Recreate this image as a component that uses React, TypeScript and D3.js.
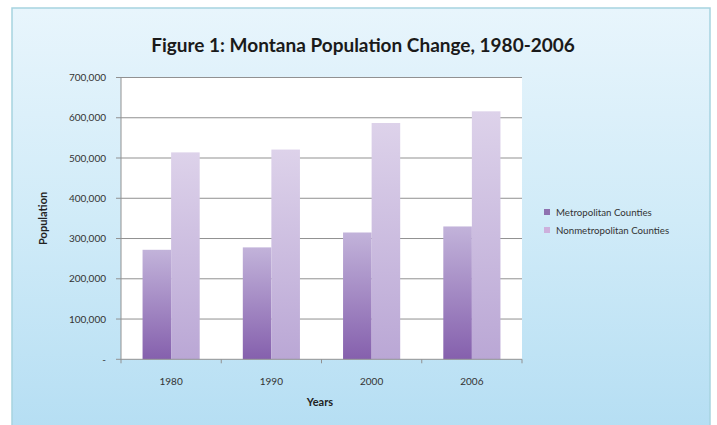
import React from "react";
import * as d3 from "d3";

const years = ["1980", "1990", "2000", "2006"];
const metro = [272000, 278000, 315000, 330000];
const nonmetro = [514000, 521000, 587000, 616000];
const seriesNames = ["Metropolitan Counties", "Nonmetropolitan Counties"];
const yTicks = [0, 100000, 200000, 300000, 400000, 500000, 600000, 700000];

const W = 717, H = 425;
const plot = { left: 121, right: 522, top: 77.5, bottom: 359.3 };
const FONT = "Lato, 'Open Sans', sans-serif";

export default function App() {
  const x = d3.scaleBand().domain(years).range([plot.left, plot.right]).paddingInner(0).paddingOuter(0);
  const y = d3.scaleLinear().domain([0, 700000]).range([plot.bottom, plot.top]);
  const groupW = x.bandwidth() * 0.57;
  const inner = d3.scaleBand().domain(["m", "n"]).range([0, groupW]).padding(0);
  const fmt = d3.format(",");
  const data = years.map((yr, i) => ({ yr, m: metro[i], n: nonmetro[i] }));

  return (
    <svg width={W} height={H} style={{ position: "absolute", left: 0, top: 0, background: "#fff" }}>
      <defs>
        <linearGradient id="bg" x1="0" y1="0" x2="0" y2="1">
          <stop offset="0" stopColor="#e8f5fc" />
          <stop offset="0.5" stopColor="#d0ebf8" />
          <stop offset="1" stopColor="#b5def3" />
        </linearGradient>
        <linearGradient id="gm" x1="0" y1="0" x2="0" y2="1">
          <stop offset="0" stopColor="#c2b3da" />
          <stop offset="1" stopColor="#8560ad" />
        </linearGradient>
        <linearGradient id="gn" x1="0" y1="0" x2="0" y2="1">
          <stop offset="0" stopColor="#ddd2ea" />
          <stop offset="1" stopColor="#baa7d5" />
        </linearGradient>
      </defs>
      <rect x={12} y={8} width={698} height={H} fill="url(#bg)" stroke="#a6d3e0" strokeWidth={1.5} />
      <text x={363} y={52} textAnchor="middle" fontFamily={FONT} fontWeight="bold" fontSize={19} fill="#1a1a1a">
        Figure 1: Montana Population Change, 1980-2006
      </text>
      <rect x={plot.left} y={plot.top} width={plot.right - plot.left} height={plot.bottom - plot.top} fill="#ffffff" />
      {yTicks.map((t) => (
        <g key={t}>
          {t > 0 && (
            <line x1={plot.left} x2={plot.right} y1={y(t)} y2={y(t)} stroke="#919191" strokeWidth={1} />
          )}
          <line x1={plot.left - 5} x2={plot.left} y1={y(t)} y2={y(t)} stroke="#919191" strokeWidth={1} />
          <text x={106} y={y(t)} dy="0.35em" textAnchor="end" fontFamily={FONT} fontSize={10} fill="#333">
            {t === 0 ? "-" : fmt(t)}
          </text>
        </g>
      ))}
      {data.map((d) => {
        const x0 = (x(d.yr) as number) + (x.bandwidth() - groupW) / 2;
        return (
          <g key={d.yr}>
            <rect x={x0 + (inner("m") as number)} y={y(d.m)} width={inner.bandwidth()} height={y(0) - y(d.m)} fill="url(#gm)" />
            <rect x={x0 + (inner("n") as number)} y={y(d.n)} width={inner.bandwidth()} height={y(0) - y(d.n)} fill="url(#gn)" />
            <text x={(x(d.yr) as number) + x.bandwidth() / 2} y={381} dy="0.35em" textAnchor="middle" fontFamily={FONT} fontSize={10} fill="#333">
              {d.yr}
            </text>
          </g>
        );
      })}
      <line x1={plot.left} x2={plot.left} y1={plot.top} y2={plot.bottom} stroke="#919191" strokeWidth={1} />
      <line x1={plot.left} x2={plot.right} y1={plot.bottom} y2={plot.bottom} stroke="#919191" strokeWidth={1} />
      {[...years.map((yr) => x(yr) as number), plot.right].map((tx, i) => (
        <line key={i} x1={tx} x2={tx} y1={plot.bottom} y2={plot.bottom + 4} stroke="#919191" strokeWidth={1} />
      ))}
      <text x={320} y={402} dy="0.35em" textAnchor="middle" fontFamily={FONT} fontWeight="bold" fontSize={11} fill="#222">
        Years
      </text>
      <text transform={`translate(43,${(plot.top + plot.bottom) / 2}) rotate(-90)`} dy="0.35em" textAnchor="middle" fontFamily={FONT} fontWeight="bold" fontSize={11} fill="#222">
        Population
      </text>
      {seriesNames.map((s, i) => (
        <g key={s} transform={`translate(545,${213 + i * 18})`}>
          <rect x={-1} y={-4} width={6} height={6} fill={i === 0 ? "#8f72b0" : "#cdb0dc"} />
          <text x={11} y={0} dy="0.3em" fontFamily={FONT} fontSize={9.7} fill="#333">
            {s}
          </text>
        </g>
      ))}
    </svg>
  );
}
